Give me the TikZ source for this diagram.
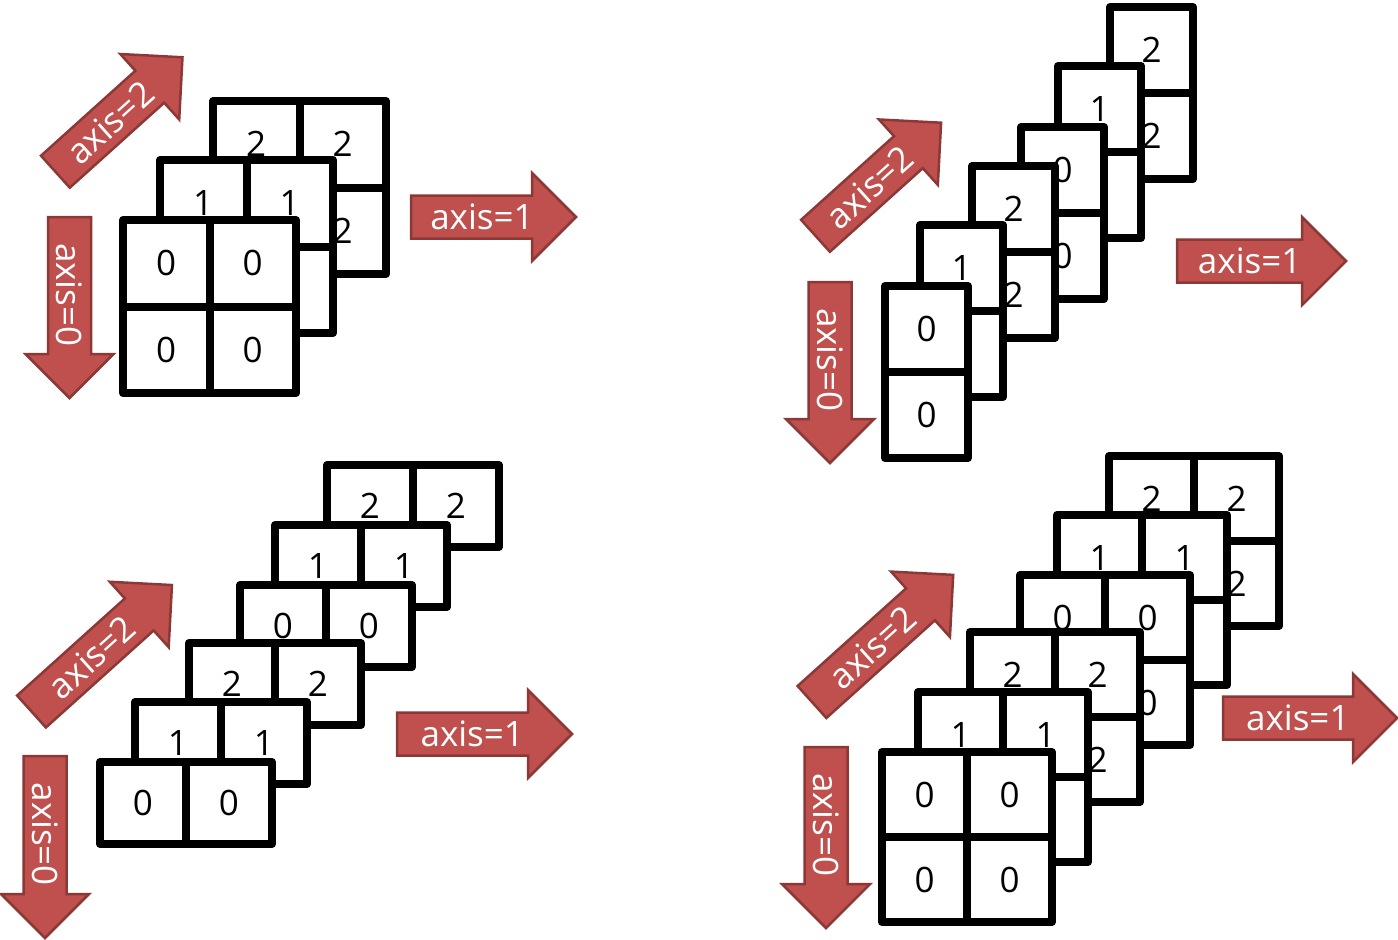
\documentclass[tikz,border=0pt]{standalone}
\usepackage{fontspec}
\setmainfont{Open Sans}
\definecolor{arrfill}{RGB}{192,80,77}
\definecolor{arrline}{RGB}{140,56,54}
\tikzset{
  cellbox/.style={draw=black, fill=white, line width=8pt, line join=round},
  celldiv/.style={draw=black, line width=8pt},
  lbl/.style={inner sep=0pt, font=\fontsize{35}{42}\selectfont, text=black},
  arrshape/.style={fill=arrfill, draw=arrline, line width=2.5pt, line join=miter},
  arrtxt/.style={inner sep=0pt, font=\fontsize{35}{42}\selectfont, text=white},
}
% #1 name, #2 x, #3 y (outer top-left), #4 w, #5 h (outer), #6 cols, #7 rows, #8 label
\newcommand{\mylayer}[8]{%
  \path[cellbox] ({#2+4},{#3+4}) rectangle ({#2+#4-4},{#3+#5-4});
  \ifnum#6=2 \draw[celldiv] ({#2+#4/2},{#3+4}) -- ({#2+#4/2},{#3+#5-4});\fi
  \ifnum#7=2 \draw[celldiv] ({#2+4},{#3+#5/2}) -- ({#2+#4-4},{#3+#5/2});\fi
  \foreach \ci in {1,...,#6}{\foreach \ri in {1,...,#7}{
    \node[lbl] (#1-\ci-\ri) at ({#2+4+(\ci-0.5)*(#4-8)/#6},{#3+4+(\ri-0.5)*(#5-8)/#7}) {#8};
  }}%
}
% #1 name, #2 x, #3 y (tail centre), #4 angle, #5 length, #6 text
\newcommand{\myarrow}[6]{%
  \begin{scope}[shift={(#2,#3)}, rotate=#4]
    \path[arrshape] (0,-21.5) -- ({#5-44},-21.5) -- ({#5-44},-44) -- (#5,0)
      -- ({#5-44},44) -- ({#5-44},21.5) -- (0,21.5) -- cycle;
    \node[arrtxt, transform shape] (#1) at ({0.43*#5},0) {#6};
  \end{scope}%
}
\begin{document}
\begin{tikzpicture}[x=1pt,y=-1pt]
\useasboundingbox[fill=white] (0,0) rectangle (1398,940);

% ---------- Panel 1 (top left) ----------
\mylayer{pa2}{209}{97}{181}{181}{2}{2}{2}
\mylayer{pa1}{156}{156}{181}{181}{2}{2}{1}
\mylayer{pa0}{119}{216}{181}{181}{2}{2}{0}
\myarrow{pa-ax2}{55.4}{171.7}{42}{171}{axis=2}
\myarrow{pa-ax1}{411}{217}{0}{165}{axis=1}
\myarrow{pa-ax0}{69.5}{217}{-90}{181}{axis=0}

% ---------- Panel 2 (top right) ----------
\mylayer{pb5}{1106}{3}{91}{180}{1}{2}{2}
\mylayer{pb4}{1054}{62}{91}{180}{1}{2}{1}
\mylayer{pb3}{1017}{123}{91}{180}{1}{2}{0}
\mylayer{pb2}{968}{162}{91}{180}{1}{2}{2}
\mylayer{pb1}{916}{221}{91}{180}{1}{2}{1}
\mylayer{pb0}{881}{282}{91}{180}{1}{2}{0}
\myarrow{pb-ax2}{815.5}{235.8}{42}{169}{axis=2}
\myarrow{pb-ax1}{1177}{261}{0}{169}{axis=1}
\myarrow{pb-ax0}{830}{282}{-90}{181}{axis=0}

% ---------- Panel 3 (bottom left) ----------
\mylayer{pc5}{323}{461}{180}{90}{2}{1}{2}
\mylayer{pc4}{271}{521}{180}{90}{2}{1}{1}
\mylayer{pc3}{236}{581}{180}{90}{2}{1}{0}
\mylayer{pc2}{185}{639}{180}{90}{2}{1}{2}
\mylayer{pc1}{131}{698}{180}{90}{2}{1}{1}
\mylayer{pc0}{96}{758}{180}{90}{2}{1}{0}
\myarrow{pc-ax2}{31.5}{711.5}{42}{189}{axis=2}
\myarrow{pc-ax1}{397}{734}{0}{175}{axis=1}
\myarrow{pc-ax0}{45}{756}{-90}{182}{axis=0}

% ---------- Panel 4 (bottom right) ----------
\mylayer{pd5}{1105}{452}{178}{178}{2}{2}{2}
\mylayer{pd4}{1053}{511}{178}{178}{2}{2}{1}
\mylayer{pd3}{1016}{571}{178}{178}{2}{2}{0}
\mylayer{pd2}{966}{628}{178}{178}{2}{2}{2}
\mylayer{pd1}{914}{688}{178}{178}{2}{2}{1}
\mylayer{pd0}{878}{748}{178}{178}{2}{2}{0}
\myarrow{pd-ax2}{812}{702}{42}{190}{axis=2}
\myarrow{pd-ax1}{1223}{718}{0}{174}{axis=1}
\myarrow{pd-ax0}{826}{747}{-90}{181}{axis=0}
\end{tikzpicture}
\end{document}
